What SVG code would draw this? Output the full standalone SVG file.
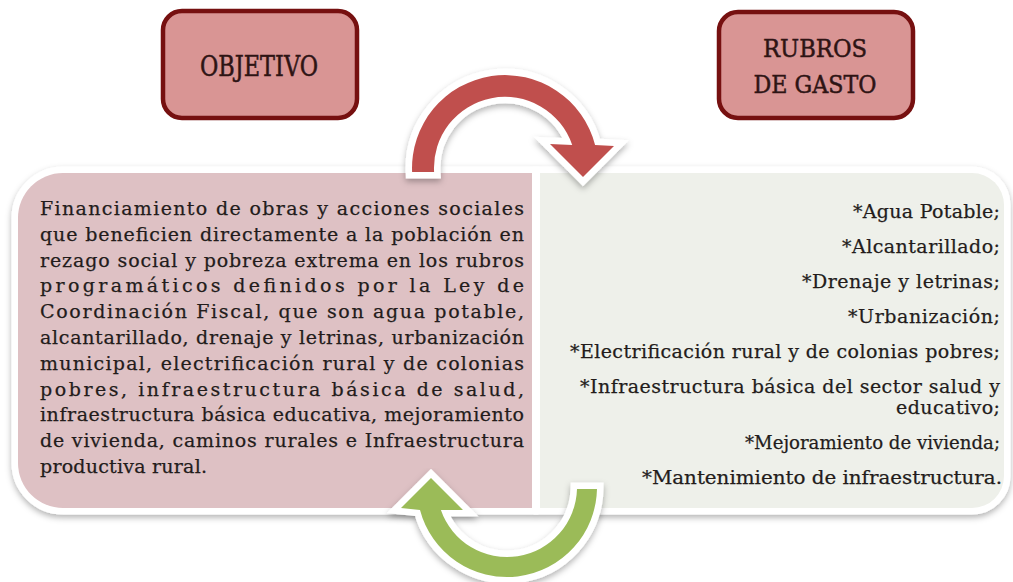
<svg xmlns="http://www.w3.org/2000/svg" width="1013" height="582" viewBox="0 0 1013 582">
<defs>
<style>
.t{font-family:"DejaVu Serif","Liberation Serif",serif;font-size:19px;fill:#231c1b;stroke:#231c1b;stroke-width:0.25}
.h{font-family:"DejaVu Serif","Liberation Serif",serif;fill:#2e1414;stroke:#2e1414;stroke-width:0.5;text-anchor:middle}
.box{fill:#d99594;stroke:#761010;stroke-width:4.5}
.outl{stroke:#ffffff;stroke-width:13;paint-order:stroke;stroke-linejoin:miter;stroke-miterlimit:4}
</style>
<filter id="sh" x="-10%" y="-10%" width="120%" height="130%">
<feDropShadow dx="0" dy="3" stdDeviation="3" flood-color="#000" flood-opacity="0.3"/>
</filter>
</defs>
<rect width="1013" height="582" fill="#ffffff"/>

<g id="panels" filter="url(#sh)">
<path id="panel-left" class="outl" fill="#dec1c4" d="M63,173 H532 V508 H63 A45,45 0 0 1 18,463 V218 A45,45 0 0 1 63,173 Z"/>
<path id="panel-right" class="outl" fill="#eef0ea" d="M540,173 H972 A32,32 0 0 1 1004,205 V476 A32,32 0 0 1 972,508 H540 Z"/>
</g>

<g id="node-objetivo">
<rect class="box" x="163" y="11" width="194" height="107" rx="19"/>
<text class="h" x="259" y="76" font-size="27" textLength="118" lengthAdjust="spacingAndGlyphs">OBJETIVO</text>
</g>

<g id="node-rubros">
<rect class="box" x="719" y="12" width="194" height="106" rx="19"/>
<text class="h" x="815" y="57" font-size="25" textLength="104" lengthAdjust="spacingAndGlyphs">RUBROS</text>
<text class="h" x="815" y="93" font-size="25" textLength="123" lengthAdjust="spacingAndGlyphs">DE GASTO</text>
</g>

<g id="node-objetivo-text">
<text class="t" x="40" y="215" textLength="484">Financiamiento de obras y acciones sociales</text>
<text class="t" x="40" y="240.8" textLength="484">que beneficien directamente a la población en</text>
<text class="t" x="40" y="266.6" textLength="484">rezago social y pobreza extrema en los rubros</text>
<text class="t" x="40" y="292.4" textLength="484">programáticos definidos por la Ley de</text>
<text class="t" x="40" y="318.2" textLength="484">Coordinación Fiscal, que son agua potable,</text>
<text class="t" x="40" y="344" textLength="484">alcantarillado, drenaje y letrinas, urbanización</text>
<text class="t" x="40" y="369.8" textLength="484">municipal, electrificación rural y de colonias</text>
<text class="t" x="40" y="395.6" textLength="484">pobres, infraestructura básica de salud,</text>
<text class="t" x="40" y="421.4" textLength="484">infraestructura básica educativa, mejoramiento</text>
<text class="t" x="40" y="447.2" textLength="484">de vivienda, caminos rurales e Infraestructura</text>
<text class="t" x="40" y="473" textLength="167">productiva rural.</text>
</g>

<g id="node-rubros-text" text-anchor="end">
<text class="t" x="1000" y="218" textLength="147">*Agua Potable;</text>
<text class="t" x="1000" y="253" textLength="158">*Alcantarillado;</text>
<text class="t" x="1000" y="288" textLength="198">*Drenaje y letrinas;</text>
<text class="t" x="1000" y="323" textLength="152">*Urbanización;</text>
<text class="t" x="1000" y="358" textLength="430">*Electrificación rural y de colonias pobres;</text>
<text class="t" x="1000" y="393" textLength="420">*Infraestructura básica del sector salud y</text>
<text class="t" x="1000" y="414" textLength="104">educativo;</text>
<text class="t" x="1000" y="449" textLength="255" lengthAdjust="spacingAndGlyphs">*Mejoramiento de vivienda;</text>
<text class="t" x="1002" y="484" textLength="360" lengthAdjust="spacingAndGlyphs">*Mantenimiento de infraestructura.</text>
</g>

<g id="connectors">
<g filter="url(#sh)">
<path id="arrow-red" class="outl" fill="#c0504d" d="M412.1,172 A93,93 0 0 1 595.1,145 L614,146 L583,177 L550,144 L572.2,145 A71,71 0 0 0 434.1,172 Z"/>
</g>
<g filter="url(#sh)">
<path id="arrow-green" class="outl" fill="#9bbb59" d="M597,489 A90,90 0 0 1 420,510 L401,508 L431,478 L463,510 L440.9,510 A70,70 0 0 0 577,489 Z"/>
</g>
</g>
</svg>
